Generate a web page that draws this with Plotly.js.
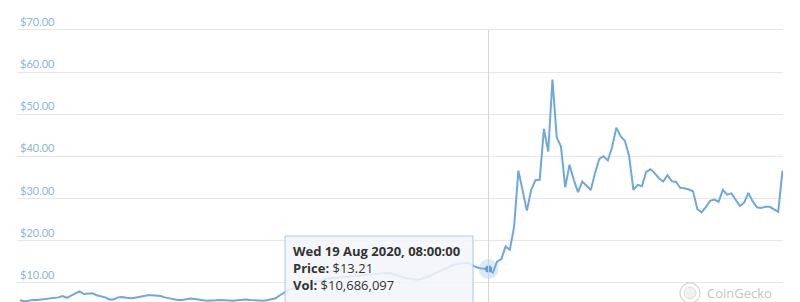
<!DOCTYPE html>
<html>
<head>
<meta charset="utf-8">
<script src="https://cdn.plot.ly/plotly-3.0.1.min.js"></script>
<style>
  html, body { margin: 0; padding: 0; background: #ffffff; }
  #chart { width: 800px; height: 302px; }
</style>
</head>
<body>
<div id="chart"></div>
<script>
// Daily closing price in USD, one value per day starting at startDate
const startDate = '2020-05-01T08:00:00';
const prices = [
  5.8, 5.6, 5.7, 5.9, 5.9, 6.0, 6.1, 6.2, 6.3, 6.5,
  6.8, 6.4, 6.9, 7.5, 7.9, 7.3, 7.4, 7.5, 7.0, 6.8,
  6.5, 6.0, 6.0, 6.5, 6.6, 6.4, 6.3, 6.4, 6.6, 6.8,
  7.0, 7.0, 6.9, 6.8, 6.5, 6.3, 6.1, 5.9, 5.9, 6.1,
  6.2, 6.1, 5.9, 5.8, 5.7, 5.7, 5.8, 5.9, 5.8, 5.7,
  5.7, 5.8, 5.9, 6.0, 5.9, 5.8, 5.7, 5.7, 5.8, 6.0,
  6.3, 7.0, 7.7, 8.2, 8.6, 8.9, 9.3, 9.6, 9.9, 10.2,
  10.5, 10.7, 10.9, 11.0, 11.2, 11.3, 11.4, 11.5, 11.6, 11.7,
  11.8, 11.9, 12.0, 12.1, 12.2, 12.3, 12.3, 12.2, 11.9, 11.5,
  11.2, 11.0, 10.9, 10.7, 10.8, 11.1, 11.5, 12.0, 12.4, 12.9,
  13.4, 13.9, 14.3, 14.5, 14.6, 14.7, 14.3, 13.7, 13.4, 13.3,
  13.21, 12.4, 15.0, 15.6, 18.6, 17.8, 23.3, 36.6, 32.0, 27.1,
  32.0, 34.3, 34.4, 46.5, 41.1, 58.2, 44.5, 42.3, 32.6, 38.0,
  34.4, 31.5, 34.0, 33.0, 32.0, 36.0, 39.4, 40.0, 39.0, 42.2,
  46.8, 44.7, 43.7, 40.0, 32.0, 33.2, 32.9, 36.3, 36.9, 36.0,
  34.8, 34.0, 35.5, 34.1, 33.9, 32.5, 32.4, 32.1, 31.7, 27.5,
  26.7, 27.9, 29.4, 29.7, 29.2, 32.0, 30.9, 31.2, 29.7, 28.2,
  29.0, 31.3, 29.3, 27.9, 27.7, 28.0, 28.0, 27.4, 26.8, 36.6
];

// Highlighted day shown in the tooltip
const hoverIndex = 110;
const hoverLabel = 'Wed 19 Aug 2020, 08:00:00';
const hoverVolume = '$10,686,097';

const yTicks = [10, 20, 30, 40, 50, 60, 70];

// Helpers
const DAY = 864e5;
const t0 = Date.parse(startDate + 'Z');
function dayToDate(d) {
  return new Date(t0 + d * DAY).toISOString().replace('T', ' ').replace('Z', '');
}
const dates = prices.map((_, i) => dayToDate(i));

// Plot box in pixels (used to place the overlay box in paper units)
const W = 800, H = 302, ML = 17, MR = 17;
const PW = W - ML - MR;
const px = x => (x - ML) / PW;
const py = y => 1 - y / H;

const lineColor = '#6fa8dc';

const priceTrace = {
  x: dates,
  y: prices,
  type: 'scatter',
  mode: 'lines',
  line: { color: lineColor, width: 2 },
  hoverinfo: 'skip'
};

const haloTrace = {
  x: [dates[hoverIndex]],
  y: [prices[hoverIndex]],
  type: 'scatter',
  mode: 'markers',
  marker: { size: 20, color: 'rgba(124,178,232,0.28)', line: { width: 0 } },
  hoverinfo: 'skip'
};

const dotTrace = {
  x: [dates[hoverIndex]],
  y: [prices[hoverIndex]],
  type: 'scatter',
  mode: 'markers',
  marker: { size: 7, color: '#5f9bd8', line: { width: 0 } },
  hoverinfo: 'skip'
};

const layout = {
  width: W,
  height: H,
  margin: { l: ML, r: MR, t: 0, b: 0, pad: 0 },
  paper_bgcolor: '#ffffff',
  plot_bgcolor: '#ffffff',
  showlegend: false,
  xaxis: {
    type: 'date',
    range: [dayToDate(-0.7), dayToDate(prices.length - 1 + 0.12)],
    showgrid: false,
    zeroline: false,
    showticklabels: false,
    ticks: '',
    showline: false
  },
  yaxis: {
    range: [5.4, 77.1],
    tickvals: yTicks,
    tickformat: '$.2f',
    ticklabelposition: 'inside top',
    ticks: '',
    showline: false,
    zeroline: false,
    showgrid: true,
    gridcolor: '#e6e6e6',
    gridwidth: 1,
    tickfont: { family: 'Lato, "Open Sans", sans-serif', size: 11, color: '#8db4d9' }
  },
  shapes: [
    // crosshair at the highlighted day
    {
      type: 'line', xref: 'x', yref: 'y',
      x0: dates[hoverIndex], x1: dates[hoverIndex], y0: 70, y1: 5.4,
      line: { color: '#d3d3d3', width: 1 },
      layer: 'above'
    },
    // tooltip box
    {
      type: 'rect', xref: 'paper', yref: 'paper',
      x0: px(285), x1: px(473), y0: py(312), y1: py(236),
      fillcolor: 'rgba(243,245,248,0.86)',
      line: { color: '#a9c8e8', width: 1 },
      layer: 'above'
    },
    // watermark logo ring
    {
      type: 'circle', xref: 'paper', yref: 'paper',
      x0: px(680), x1: px(700), y0: py(303), y1: py(283),
      line: { color: '#d4d4d4', width: 1.2 },
      fillcolor: 'rgba(0,0,0,0)',
      layer: 'above'
    },
    {
      type: 'circle', xref: 'paper', yref: 'paper',
      x0: px(684), x1: px(696), y0: py(299), y1: py(287),
      line: { color: '#dddddd', width: 1 },
      fillcolor: 'rgba(225,225,225,0.5)',
      layer: 'above'
    }
  ],
  annotations: [
    {
      xref: 'paper', yref: 'paper',
      x: px(291), y: py(240),
      xanchor: 'left', yanchor: 'top',
      align: 'left',
      showarrow: false,
      font: { family: '"Open Sans", "Noto Sans", sans-serif', size: 13, color: '#333333' },
      text: '<b>' + hoverLabel + '</b><br>' +
            '<b>Price:</b> $' + prices[hoverIndex].toFixed(2) + '<br>' +
            '<b>Vol:</b> ' + hoverVolume
    },
    {
      xref: 'paper', yref: 'paper',
      x: px(706), y: py(283),
      xanchor: 'left', yanchor: 'top',
      borderpad: 0,
      showarrow: false,
      font: { family: '"Open Sans", sans-serif', size: 13, color: '#c4c4c4' },
      text: 'CoinGecko'
    }
  ]
};

Plotly.newPlot('chart', [priceTrace, haloTrace, dotTrace], layout, { staticPlot: true, displayModeBar: false });
</script>
</body>
</html>
